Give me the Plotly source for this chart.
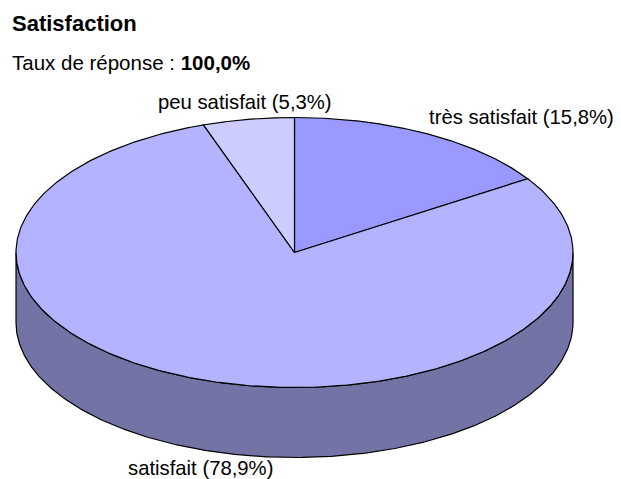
import numpy as np
import plotly.graph_objects as go

# ---- data ----
categories = ["très satisfait", "satisfait", "peu satisfait"]
values = [15.8, 78.9, 5.3]
slice_colors = ["#9999FF", "#B3B3FF", "#CCCCFF"]
side_colors = ["#6B6BB3", "#7373A6", "#8F8FB3"]
title_text = "Satisfaction"
response_rate = "100,0%"

# ---- geometry (page pixel space; page body has an 8px margin) ----
W, H = 621, 479
OFF = 8
cx, cy = 294.5, 252.5
rx, ry = 278.5, 135.0
depth = 70.0


def pt(theta_deg, dy=0.0):
    t = np.radians(theta_deg)
    return cx + rx * np.sin(t), cy - ry * np.cos(t) + dy


fig = go.Figure()

total = sum(values)
bounds = []
acc = 0.0
for v in values:
    a0 = acc / total * 360.0
    acc += v
    a1 = acc / total * 360.0
    bounds.append((a0, a1))

# side faces (front half: theta in [90, 270])
for (a0, a1), sc in zip(bounds, side_colors):
    s0, s1 = max(a0, 90.0), min(a1, 270.0)
    if s1 <= s0:
        continue
    th = np.linspace(s0, s1, 300)
    xt, yt = pt(th)
    xb, yb = pt(th[::-1], depth)
    xs = np.concatenate([xt, xb, xt[:1]])
    ys = np.concatenate([yt, yb, yt[:1]])
    fig.add_trace(go.Scatter(x=xs, y=ys, mode="lines", fill="toself",
                             fillcolor=sc, line=dict(color="#000000", width=1.2),
                             hoverinfo="skip", showlegend=False))

# top faces
for (a0, a1), c in zip(bounds, slice_colors):
    th = np.linspace(a0, a1, 400)
    xa, ya = pt(th)
    xs = np.concatenate([[cx], xa, [cx]])
    ys = np.concatenate([[cy], ya, [cy]])
    fig.add_trace(go.Scatter(x=xs, y=ys, mode="lines", fill="toself",
                             fillcolor=c, line=dict(color="#000000", width=1.2),
                             hoverinfo="skip", showlegend=False))


def fmt(v):
    return f"{v:.1f}".replace(".", ",")

label_pos = {
    "très satisfait": (427, 117),
    "satisfait": (126, 468),
    "peu satisfait": (156, 102),
}

annotations = [
    dict(x=10, y=23, text=f"<b>{title_text}</b>", showarrow=False,
         xanchor="left", yanchor="middle",
         font=dict(family="Liberation Sans, Arial", size=22, color="#000000")),
    dict(x=10, y=62, text=f"Taux de réponse : <b>{response_rate}</b>", showarrow=False,
         xanchor="left", yanchor="middle",
         font=dict(family="Liberation Sans, Arial", size=20.5, color="#000000")),
]
for cat, v in zip(categories, values):
    x, y = label_pos[cat]
    annotations.append(dict(x=x, y=y, text=f"{cat} ({fmt(v)}%)", showarrow=False,
                            xanchor="left", yanchor="middle",
                            font=dict(family="Liberation Sans, Arial", size=20.3, color="#000000")))

fig.update_layout(
    width=W - OFF, height=H - OFF,
    margin=dict(l=0, r=0, t=0, b=0),
    paper_bgcolor="#FFFFFF", plot_bgcolor="#FFFFFF",
    xaxis=dict(range=[OFF, W], visible=False, fixedrange=True),
    yaxis=dict(range=[H, OFF], visible=False, fixedrange=True),
    annotations=annotations,
    showlegend=False,
)

fig.write_html("out.html", config={"displayModeBar": False})
